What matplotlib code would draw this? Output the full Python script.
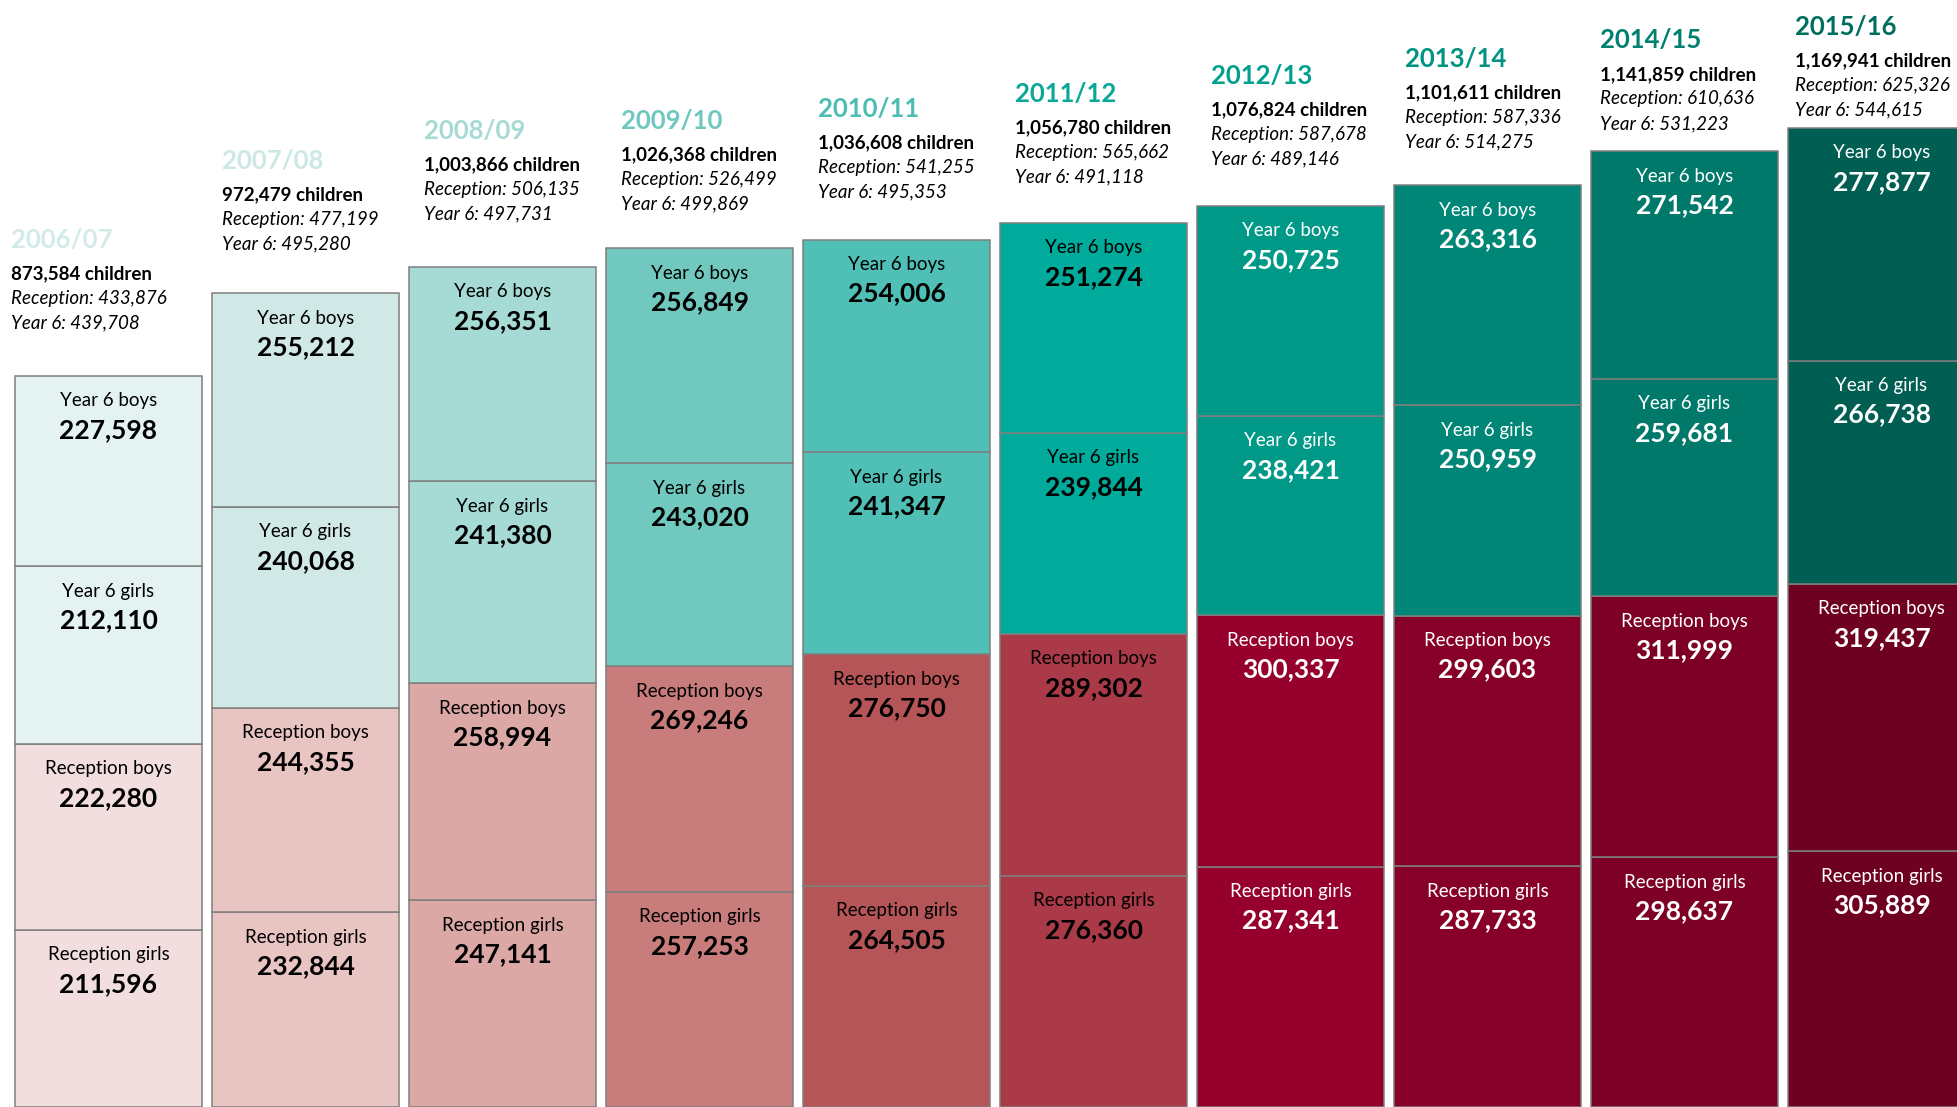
import numpy as np
import matplotlib.pyplot as plt

plt.rcParams['font.family'] = ['Lato', 'DejaVu Sans']

# data
years = ['2006/07', '2007/08', '2008/09', '2009/10', '2010/11',
         '2011/12', '2012/13', '2013/14', '2014/15', '2015/16']
rec_girls = [211596, 232844, 247141, 257253, 264505, 276360, 287341, 287733, 298637, 305889]
rec_boys = [222280, 244355, 258994, 269246, 276750, 289302, 300337, 299603, 311999, 319437]
y6_girls = [212110, 240068, 241380, 243020, 241347, 239844, 238421, 250959, 259681, 266738]
y6_boys = [227598, 255212, 256351, 256849, 254006, 251274, 250725, 263316, 271542, 277877]

# colours per year
y6_colors = ['#E4F2F1', '#D0E9E6', '#A6DBD5', '#70C8BF', '#50BFB5',
             '#00AB9B', '#009887', '#008677', '#00796A', '#005E52']
rec_colors = ['#F2DEDE', '#E8C4C2', '#DCA8A6', '#C87C7B', '#B65558',
              '#AA3A47', '#96002C', '#870029', '#7D0026', '#6E0022']
year_colors = ['#D3EBE8', '#CCE8E4', '#A6DBD5', '#6FC8BF', '#4BBDB2',
               '#0AA898', '#00A08C', '#009381', '#00806E', '#006E5E']

# header placement (pixels): gap above bar top, x shift from bar left
head_gap = [53, 49, 53, 44, 48, 46, 47, 43, 28, 18]
head_dx = [-4, 10, 15, 15, 15, 15, 14, 11, 9, 7]

DPI = 100
W, H = 1957, 1107
PX_PER_CHILD = 1.0 / 1195.0
pt = 72.0 / DPI   # points per pixel

fig = plt.figure(figsize=(W / DPI, H / DPI), dpi=DPI)
ax = fig.add_axes([0, 0, 1, 1])
ax.set_axis_off()

x = np.arange(len(years))
width = 187 / 197.0
ax.set_xlim(-108.5 / 197.0, (W - 108.5) / 197.0)
ax.set_ylim(0, H / PX_PER_CHILD)

rg = np.array(rec_girls)
rb = np.array(rec_boys)
yg = np.array(y6_girls)
yb = np.array(y6_boys)

segments = [('Reception girls', rg, rec_colors),
            ('Reception boys', rb, rec_colors),
            ('Year 6 girls', yg, y6_colors),
            ('Year 6 boys', yb, y6_colors)]

bottom = np.zeros(len(years))
for name, vals, cols in segments:
    ax.bar(x, vals, bottom=bottom, width=width, color=cols,
           edgecolor='#7F7F7F', linewidth=1.1)
    tops = bottom + vals
    for i in range(len(years)):
        tc = 'white' if i >= 6 else 'black'
        ax.annotate(name, xy=(x[i], tops[i]), xytext=(0, -25 * pt),
                    textcoords='offset points', ha='center', va='center',
                    fontsize=13.5, color=tc)
        ax.annotate('{:,}'.format(int(vals[i])), xy=(x[i], tops[i]),
                    xytext=(0, -54 * pt), textcoords='offset points',
                    ha='center', va='center', fontsize=19,
                    fontweight='bold', color=tc)
    bottom = tops

totals = rg + rb + yg + yb
reception = rg + rb
year6 = yg + yb
for i in range(len(years)):
    left = x[i] - width / 2
    dx = head_dx[i] * pt
    g = head_gap[i]
    ax.annotate('Year 6: {:,}'.format(int(year6[i])), xy=(left, totals[i]),
                xytext=(dx, g * pt), textcoords='offset points',
                ha='left', va='center', fontsize=13.5, style='italic')
    ax.annotate('Reception: {:,}'.format(int(reception[i])), xy=(left, totals[i]),
                xytext=(dx, (g + 24.5) * pt), textcoords='offset points',
                ha='left', va='center', fontsize=13.5, style='italic')
    ax.annotate('{:,} children'.format(int(totals[i])), xy=(left, totals[i]),
                xytext=(dx, (g + 49) * pt), textcoords='offset points',
                ha='left', va='center', fontsize=13.5, fontweight='bold')
    ax.annotate(years[i], xy=(left, totals[i]),
                xytext=(dx, (g + 83) * pt), textcoords='offset points',
                ha='left', va='center', fontsize=18.5, fontweight='bold',
                color=year_colors[i])

fig.savefig('out.png', dpi=DPI)
